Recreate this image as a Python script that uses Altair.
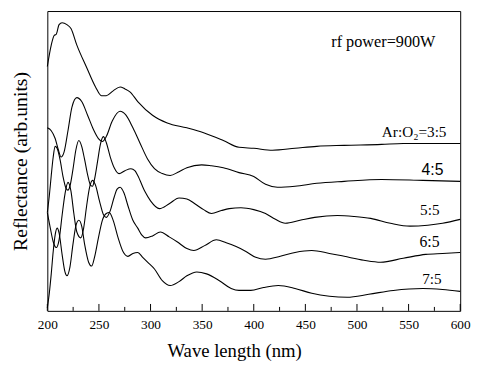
import altair as alt
import pandas as pd

# ---- data (wavelength in nm, reflectance in arb. units) ----
series_names = ["3:5", "4:5", "5:5", "6:5", "7:5"]

wl_35 = [200, 203.8, 206.7, 208.6, 211.4, 214.3, 219, 222.9, 228.6, 238.1, 246.7, 252.4, 257.1, 263.8, 270.5, 275.2, 280, 287.6, 301.9, 316.2, 335.2, 351.4, 370.5, 385.7, 400, 418.1, 440, 461, 487.6, 523.8, 544.8, 600]
r_35 = [251, 273, 283, 284, 294, 296, 294, 290, 273, 250, 230, 221, 221, 226, 230, 228, 225, 215, 201, 193, 188, 183, 175, 168, 167, 165, 167, 169, 170, 171, 172, 172]

wl_45 = [200, 203.8, 207.6, 210.5, 213.3, 216.2, 220, 223.8, 228.6, 233.3, 239, 244.8, 249.5, 253.3, 257.1, 262.9, 270.5, 276.2, 282.9, 289.5, 297.1, 303.8, 311.4, 319, 327.6, 335.2, 349.5, 359, 370.5, 385.7, 400, 411.4, 422.9, 440, 461, 487.6, 523.8, 563.8, 600]
r_45 = [188, 185, 177, 166, 158, 163, 185, 209, 219, 215, 201, 186, 177, 174, 179, 195, 205, 201, 188, 173, 156, 146, 141, 139, 143, 147, 150, 149, 147, 142, 138, 130, 127, 128, 131, 133, 135, 134, 133]

wl_55 = [200, 201.9, 203.8, 205.7, 207.6, 209.5, 212.4, 215.2, 218.1, 220, 221.9, 224.8, 227.6, 230.5, 233.3, 236.2, 239, 241.9, 243.8, 245.7, 248.6, 251.4, 254.3, 257.1, 261, 264.8, 269.5, 275.2, 281, 284.8, 287.6, 294.3, 300, 308.6, 318.1, 327.6, 335.2, 342.9, 351.4, 359, 368.6, 376.2, 387.6, 400, 411.4, 421, 430.5, 444.8, 459, 481, 497.1, 513.3, 532.4, 551.4, 568.6, 582.9, 600]
r_55 = [101, 118, 139, 158, 169, 167, 155, 138, 126, 124, 128, 145, 165, 175, 169, 155, 140, 129, 128, 135, 153, 171, 179, 173, 158, 147, 141, 144, 146, 144, 139, 123, 113, 105, 110, 116, 115, 110, 104, 100, 103, 105, 106, 104, 100, 94, 90, 93, 96, 98, 97, 95, 90, 87, 88, 90, 94]

wl_65 = [200, 202.9, 205.7, 208.6, 211.4, 214.3, 217.1, 220, 222.9, 225.7, 228.6, 232.4, 235.2, 238.1, 241, 243.8, 246.7, 250.5, 254.3, 257.1, 261, 264.8, 267.6, 270.5, 274.3, 278.1, 282.9, 287.6, 291.4, 295.2, 301.9, 309.5, 318.1, 325.7, 335.2, 341.9, 352.4, 363.8, 373.3, 382.9, 392.4, 401.9, 411.4, 425.7, 440, 456.2, 473.3, 487.6, 506.7, 522.9, 544.8, 566.7, 582.9, 600]
r_65 = [101, 85, 71, 65, 73, 98, 120, 132, 123, 100, 81, 75, 85, 108, 127, 134, 129, 113, 99, 96, 103, 117, 125, 127, 121, 108, 93, 85, 78, 75, 77, 81, 76, 71, 64, 62, 67, 73, 70, 66, 61, 55, 53, 56, 60, 62, 59, 56, 52, 50, 54, 58, 59, 60]

wl_75 = [200, 201.9, 203.8, 205.7, 207.6, 209.5, 211.4, 214.3, 217.1, 219, 221.9, 224.8, 227.6, 230.5, 233.3, 236.2, 240, 242.9, 245.7, 249.5, 253.3, 257.1, 260, 263.8, 268.6, 273.3, 278.1, 282.9, 287.6, 292.4, 297.1, 303.8, 311.4, 319, 327.6, 335.2, 344.8, 354.3, 366.7, 378.1, 385.7, 397.1, 409.5, 423.8, 440, 456.2, 473.3, 490.5, 511.4, 535.2, 563.8, 582.9, 600]
r_75 = [3, 18, 38, 61, 78, 85, 80, 58, 40, 36, 45, 68, 87, 93, 87, 68, 50, 46, 55, 75, 93, 100, 101, 93, 75, 61, 56, 59, 60, 55, 50, 43, 31, 26, 30, 36, 40, 38, 31, 23, 21, 21, 24, 26, 23, 18, 15, 14, 17, 21, 23, 22, 20]

major_ticks = [200, 250, 300, 350, 400, 450, 500, 550, 600]
minor_ticks = [225, 275, 325, 375, 425, 475, 525, 575]

serif_labels = ["rf power=900W", "Ar:O\u2082=3:5", "5:5", "6:5", "7:5"]
serif_label_wl = [576, 586.7, 580, 580, 582]
serif_label_r = [276, 184, 104, 70.5, 33]
serif_label_size = [16.5, 15.5, 15.5, 16, 15.5]
sans_labels = ["4:5"]
sans_label_wl = [583.8]
sans_label_r = [145]

# ---- tables ----
rows = []
for name, wl, rr in zip(series_names,
                        [wl_35, wl_45, wl_55, wl_65, wl_75],
                        [r_35, r_45, r_55, r_65, r_75]):
    for a, b in zip(wl, rr):
        rows.append({"series": name, "wl": a, "R": b})
df = pd.DataFrame(rows)

df_major = pd.DataFrame({"wl": major_ticks})
df_minor = pd.DataFrame({"wl": minor_ticks})
df_serif = pd.DataFrame({"text": serif_labels, "wl": serif_label_wl, "R": serif_label_r, "size": serif_label_size})
df_sans = pd.DataFrame({"text": sans_labels, "wl": sans_label_wl, "R": sans_label_r})

W, H = 420, 305
SERIF = "Liberation Serif, Times New Roman, Times, serif"

x_scale = alt.Scale(domain=[200, 600], nice=False, zero=False)
y_scale = alt.Scale(domain=[0, 308], nice=False, zero=False)

lines = alt.Chart(df).mark_line(color="black", strokeWidth=1.1, interpolate="monotone").encode(
    x=alt.X("wl:Q", scale=x_scale,
            axis=alt.Axis(title="Wave length (nm)", values=major_ticks, format="d",
                          ticks=False, tickSize=0, domain=False, grid=False,
                          labelFont=SERIF, labelFontSize=13.5, labelColor="black",
                          labelPadding=7, labelFlush=False,
                          titleFont=SERIF, titleFontSize=19, titleFontWeight="normal",
                          titleColor="black", titleAlign="center", titleBaseline="alphabetic",
                          titleX=190, titleY=46.5)),
    y=alt.Y("R:Q", scale=y_scale,
            axis=alt.Axis(title="Reflectance (arb.units)", labels=False, ticks=False, tickSize=0,
                          domain=False, grid=False,
                          titleFont=SERIF, titleFontSize=20, titleFontWeight="normal",
                          titleColor="black", titleAlign="center", titleBaseline="alphabetic",
                          titleAngle=270, titleX=-21, titleY=H / 2)),
    detail="series:N",
)

major = alt.Chart(df_major).mark_rule(color="black", strokeWidth=1).encode(
    x=alt.X("wl:Q", scale=x_scale), y=alt.value(H), y2=alt.value(H - 7))
minor = alt.Chart(df_minor).mark_rule(color="black", strokeWidth=1).encode(
    x=alt.X("wl:Q", scale=x_scale), y=alt.value(H), y2=alt.value(H - 4))

serif_text = alt.Chart(df_serif).mark_text(font=SERIF, align="right", baseline="middle", color="black").encode(
    x=alt.X("wl:Q", scale=x_scale), y=alt.Y("R:Q", scale=y_scale), text="text:N",
    size=alt.Size("size:Q", scale=None, legend=None))
sans_text = alt.Chart(df_sans).mark_text(font="Liberation Sans, Arial, sans-serif", fontSize=16, align="right", baseline="middle", color="black").encode(
    x=alt.X("wl:Q", scale=x_scale), y=alt.Y("R:Q", scale=y_scale), text="text:N")

chart = alt.layer(lines, major, minor, serif_text, sans_text).properties(
    width=W, height=H,
    autosize=alt.AutoSizeParams(type="none"),
    padding={"left": 40, "top": 0, "right": 12, "bottom": 52},
    background="white",
).configure_view(stroke="black", strokeWidth=1)

chart.save("out.html", embed_options={"renderer": "svg", "actions": False})
